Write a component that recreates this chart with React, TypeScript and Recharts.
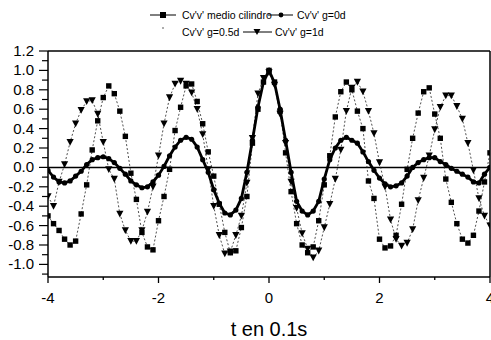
import React from 'react';
import { LineChart, Line, XAxis, YAxis, ReferenceLine } from 'recharts';

const tValues = [
  -4.0, -3.9, -3.8, -3.7, -3.6, -3.5, -3.4, -3.3, -3.2, -3.1,
  -3.0, -2.9, -2.8, -2.7, -2.6, -2.5, -2.4, -2.3, -2.2, -2.1,
  -2.0, -1.9, -1.8, -1.7, -1.6, -1.5, -1.4, -1.3, -1.2, -1.1,
  -1.0, -0.9, -0.8, -0.7, -0.6, -0.5, -0.4, -0.3, -0.2, -0.1,
  0.0,
  0.1, 0.2, 0.3, 0.4, 0.5, 0.6, 0.7, 0.8, 0.9, 1.0,
  1.1, 1.2, 1.3, 1.4, 1.5, 1.6, 1.7, 1.8, 1.9, 2.0,
  2.1, 2.2, 2.3, 2.4, 2.5, 2.6, 2.7, 2.8, 2.9, 3.0,
  3.1, 3.2, 3.3, 3.4, 3.5, 3.6, 3.7, 3.8, 3.9, 4.0,
];

// Cv'v' medio cilindro (squares)
const medioCilindro = [
  -0.50, -0.58, -0.65, -0.74, -0.80, -0.76, -0.48, -0.18, 0.18, 0.48,
  0.72, 0.84, 0.76, 0.58, 0.32, -0.06, -0.33, -0.67, -0.82, -0.85,
  -0.55, -0.30, -0.02, 0.38, 0.62, 0.84, 0.86, 0.68, 0.45, 0.16,
  -0.09, -0.38, -0.67, -0.88, -0.86, -0.62, -0.30, 0.25, 0.60, 0.88,
  1.00,
  0.88, 0.58, 0.15, -0.25, -0.58, -0.80, -0.88, -0.82, -0.55, -0.18,
  0.12, 0.52, 0.78, 0.88, 0.80, 0.58, 0.40, -0.14, -0.32, -0.74,
  -0.83, -0.81, -0.70, -0.38, -0.02, 0.30, 0.56, 0.78, 0.82, 0.55,
  0.30, -0.12, -0.36, -0.58, -0.74, -0.78, -0.70, -0.45, -0.15, 0.15,
];

// Cv'v' g=0d (dense small circles, thick line)
const g0d = [
  -0.03, -0.10, -0.15, -0.16, -0.14, -0.09, -0.04, 0.03, 0.08, 0.10,
  0.11, 0.09, 0.05, -0.01, -0.07, -0.14, -0.18, -0.21, -0.20, -0.15,
  -0.08, 0.01, 0.12, 0.21, 0.28, 0.31, 0.29, 0.21, 0.08, -0.05,
  -0.23, -0.37, -0.47, -0.49, -0.44, -0.32, -0.05, 0.28, 0.62, 0.88,
  1.00,
  0.87, 0.60, 0.28, -0.05, -0.35, -0.45, -0.49, -0.45, -0.35, -0.12,
  0.08, 0.20, 0.28, 0.31, 0.28, 0.25, 0.16, 0.06, -0.03, -0.11,
  -0.17, -0.20, -0.19, -0.16, -0.09, 0.00, 0.05, 0.08, 0.10, 0.10,
  0.06, 0.03, -0.01, -0.04, -0.07, -0.10, -0.15, -0.16, -0.07, 0.00,
];

// Cv'v' g=1d (down triangles)
const g1d = [
  -0.30, -0.40, -0.15, 0.03, 0.26, 0.45, 0.59, 0.68, 0.69, 0.55,
  0.26, -0.02, -0.12, -0.48, -0.65, -0.76, -0.76, -0.65, -0.46, -0.20,
  0.12, 0.45, 0.72, 0.86, 0.89, 0.86, 0.77, 0.60, 0.34, -0.02,
  -0.40, -0.70, -0.89, -0.87, -0.70, -0.50, -0.16, 0.30, 0.76, 0.92,
  0.98,
  0.85, 0.55, 0.25, -0.15, -0.42, -0.68, -0.84, -0.93, -0.86, -0.62,
  -0.38, -0.12, 0.18, 0.58, 0.82, 0.88, 0.78, 0.58, 0.35, 0.05,
  -0.20, -0.54, -0.74, -0.81, -0.78, -0.64, -0.34, -0.11, 0.12, 0.39,
  0.62, 0.74, 0.74, 0.63, 0.50, 0.25, -0.03, -0.32, -0.50, -0.60,
];

const xTicks = [-4, -3, -2, -1, 0, 1, 2, 3, 4];
const xMajor = [-4, -2, 0, 2, 4];
const yMajor = [-1.0, -0.8, -0.6, -0.4, -0.2, 0.0, 0.2, 0.4, 0.6, 0.8, 1.0, 1.2];
const yMinor = [-1.1, -0.9, -0.7, -0.5, -0.3, -0.1, 0.1, 0.3, 0.5, 0.7, 0.9, 1.1];
const yTicks = [...yMajor, ...yMinor].sort((a, b) => a - b);

const legendLabels = ["Cv'v' medio cilindro", "Cv'v' g=0d", "Cv'v' g=0.5d", "Cv'v' g=1d"];
const xTitle = 't en 0.1s';

const data = tValues.map((t, i) => ({
  t,
  medio: medioCilindro[i],
  g0: g0d[i],
  g1: g1d[i],
}));

const FONT = '"Liberation Sans", Arial, sans-serif';

const XTick = (props: any) => {
  const { x, y, payload } = props;
  const v = payload.value;
  const major = xMajor.some((m) => Math.abs(m - v) < 1e-6);
  return (
    <g>
      <line x1={x} x2={x} y1={y} y2={y + (major ? 6 : 3)} stroke="#000" strokeWidth={1.3} />
      {major && (
        <text x={x} y={y + 26} textAnchor="middle" fontSize={15} fontFamily={FONT} fill="#000">
          {String(v)}
        </text>
      )}
    </g>
  );
};

const YTick = (props: any) => {
  const { x, y, payload } = props;
  const v = payload.value;
  const major = yMajor.some((m) => Math.abs(m - v) < 1e-6);
  return (
    <g>
      <line x1={x - (major ? 9 : 6)} x2={x} y1={y} y2={y} stroke="#000" strokeWidth={1.2} />
      {major && (
        <text x={x - 14} y={y} dy={5} textAnchor="end" fontSize={15} fontFamily={FONT} fill="#000">
          {v.toFixed(1)}
        </text>
      )}
    </g>
  );
};

const renderSquare = (p: any) => {
  if (p.cx == null || p.cy == null) return <g key={`s-${p.index}`} />;
  return <rect key={`s-${p.index}`} x={p.cx - 2.7} y={p.cy - 2.7} width={5.4} height={5.4} fill="#000" />;
};

const renderTriangle = (p: any) => {
  if (p.cx == null || p.cy == null) return <g key={`t-${p.index}`} />;
  const { cx, cy } = p;
  return (
    <path
      key={`t-${p.index}`}
      d={`M${cx - 3.6},${cy - 3.2} L${cx + 3.6},${cy - 3.2} L${cx},${cy + 3.6} Z`}
      fill="#000"
    />
  );
};

const renderCircle = (p: any) => {
  if (p.cx == null || p.cy == null) return <g key={`c-${p.index}`} />;
  return <circle key={`c-${p.index}`} cx={p.cx} cy={p.cy} r={2.6} fill="#000" />;
};

const Legend = () => (
  <svg width={491} height={45} style={{ position: 'absolute', left: 0, top: 0 }}>
    <g fontFamily={FONT} fontSize={10.5} fill="#000">
      <line x1={150} x2={176} y1={15} y2={15} stroke="#000" strokeWidth={1} />
      <rect x={160} y={12} width={6} height={6} fill="#000" />
      <text x={182} y={19}>{legendLabels[0]}</text>
      <line x1={268} x2={293} y1={15} y2={15} stroke="#000" strokeWidth={1} />
      <circle cx={281} cy={15} r={2.4} fill="#000" />
      <text x={297} y={19}>{legendLabels[1]}</text>
      <circle cx={163} cy={28} r={0.8} fill="#444" />
      <text x={182} y={36}>{legendLabels[2]}</text>
      <line x1={243} x2={272} y1={32} y2={32} stroke="#000" strokeWidth={1} />
      <path d="M253.5,29 L260.5,29 L257,35 Z" fill="#000" />
      <text x={275} y={36}>{legendLabels[3]}</text>
    </g>
  </svg>
);

export default function App() {
  return (
    <div style={{ position: 'absolute', left: 0, top: 0, width: 491, height: 340, background: '#fff', fontFamily: FONT }}>
      <LineChart width={491} height={340} data={data} margin={{ top: 51, right: 1, left: 0, bottom: 33 }}>
        <XAxis
          dataKey="t"
          type="number"
          domain={[-4, 4]}
          ticks={xTicks}
          interval={0}
          allowDataOverflow
          tick={<XTick />}
          tickLine={false}
          tickSize={0}
          tickMargin={0}
          height={30}
          axisLine={{ stroke: '#000', strokeWidth: 1.5 }}
          label={{ value: xTitle, position: 'bottom', offset: 15, fontSize: 20, fill: '#000', fontFamily: FONT }}
        />
        <YAxis
          type="number"
          domain={[-1.13, 1.2]}
          ticks={yTicks}
          interval={0}
          allowDataOverflow
          tick={<YTick />}
          tickLine={false}
          tickSize={0}
          tickMargin={0}
          width={48}
          axisLine={{ stroke: '#000', strokeWidth: 1.5 }}
        />
        <ReferenceLine y={1.2} stroke="#000" strokeWidth={1.5} />
        <ReferenceLine x={4} stroke="#000" strokeWidth={1.5} />
        <ReferenceLine y={0} stroke="#000" strokeWidth={1.5} />
        <Line
          type="linear"
          dataKey="medio"
          stroke="#222"
          strokeWidth={0.8}
          strokeDasharray="2 2"
          dot={renderSquare}
          activeDot={false}
          isAnimationActive={false}
        />
        <Line
          type="linear"
          dataKey="g1"
          stroke="#222"
          strokeWidth={0.8}
          strokeDasharray="2 2"
          dot={renderTriangle}
          activeDot={false}
          isAnimationActive={false}
        />
        <Line
          type="linear"
          dataKey="g0"
          stroke="#000"
          strokeWidth={2.8}
          dot={renderCircle}
          activeDot={false}
          isAnimationActive={false}
        />
      </LineChart>
      <Legend />
    </div>
  );
}
